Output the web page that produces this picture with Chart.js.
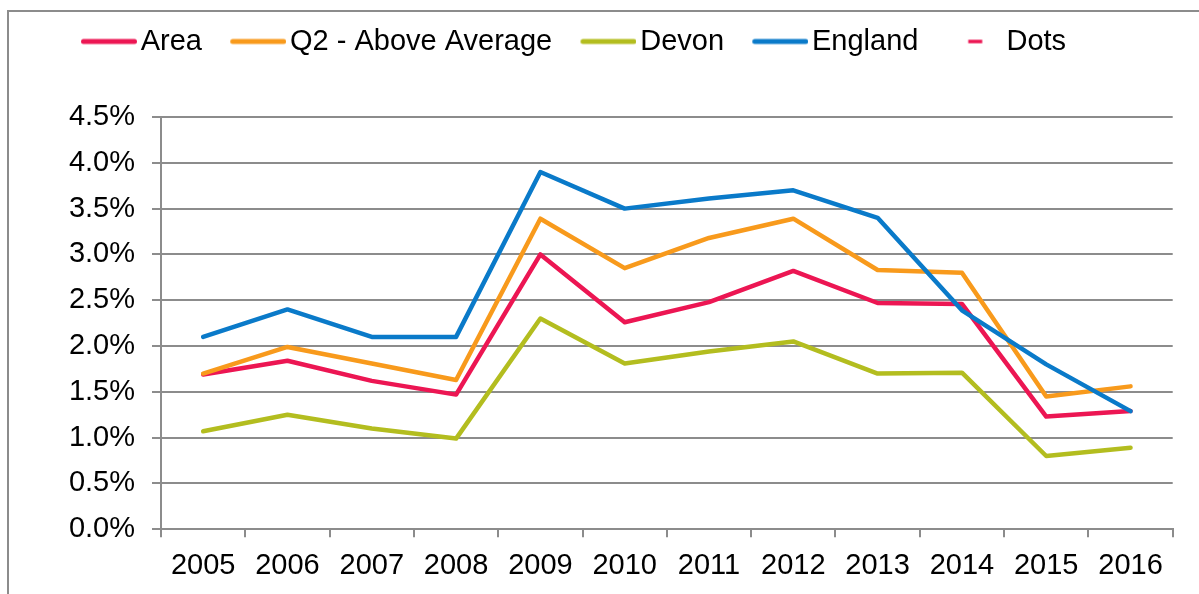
<!DOCTYPE html>
<html>
<head>
<meta charset="utf-8">
<title>Rates chart</title>
<script src="https://cdn.jsdelivr.net/npm/chart.js@4.4.1/dist/chart.umd.min.js"></script>
<style>
  html, body { margin: 0; padding: 0; background: #fff; overflow: hidden; }
  body { width: 1199px; height: 594px; position: relative; }
  .frame {
    position: absolute; left: 7px; top: 10px; width: 1400px; height: 800px;
    border: 2px solid #8c8c8c; box-sizing: border-box;
  }
  #chart { position: absolute; left: 0; top: -2px; }
</style>
</head>
<body>
<div class="frame"></div>
<canvas id="chart" width="1199" height="596"></canvas>
<script>
// data (values in %)
const years = ['2005', '2006', '2007', '2008', '2009', '2010', '2011', '2012', '2013', '2014', '2015', '2016'];
const area = [1.69, 1.84, 1.62, 1.47, 3.00, 2.26, 2.48, 2.82, 2.47, 2.46, 1.23, 1.29];
const q2AboveAverage = [1.70, 1.99, 1.81, 1.63, 3.39, 2.85, 3.18, 3.39, 2.83, 2.80, 1.45, 1.56];
const devon = [1.07, 1.25, 1.10, 0.99, 2.30, 1.81, 1.94, 2.05, 1.70, 1.71, 0.80, 0.89];
const england = [2.10, 2.40, 2.10, 2.10, 3.90, 3.50, 3.61, 3.70, 3.40, 2.39, 1.80, 1.29];
const dots = [];

const seriesNames = ['Area', 'Q2 - Above Average', 'Devon', 'England', 'Dots'];
const seriesColors = ['#ec1653', '#f89a1c', '#b3bd1f', '#0a7ac9', '#ec1653'];
const yMin = 0, yMax = 4.5, yStep = 0.5;

const axisGrey = '#8c8c8c';
const font = { family: '"Liberation Sans", Arial, sans-serif', size: 29 };

// legend markers: long line for the series, short dash for "Dots"
function makeMarker(color, from, to, width, round) {
    const c = document.createElement('canvas');
    c.width = 66;
    c.height = 8;
    const g = c.getContext('2d');
    g.strokeStyle = color;
    g.lineWidth = width;
    g.lineCap = round ? 'round' : 'butt';
    g.beginPath();
    g.moveTo(from, 4);
    g.lineTo(to, 4);
    g.stroke();
    return c;
}
const markers = seriesColors.map((col, i) =>
    i === 4 ? makeMarker(col, 31.5, 45.5, 3.5, false) : makeMarker(col, 12.5, 63.5, 5, true));

// push the plot down below the legend
const legendSpacer = {
    id: 'legendSpacer',
    beforeInit(chart) {
        const fit = chart.legend.fit;
        chart.legend.fit = function() {
            fit.call(this);
            this.height = 119;
        };
    }
};

function lineSet(label, data, color, order) {
    return {
        label: label,
        data: data,
        borderColor: color,
        backgroundColor: color,
        borderWidth: 4.5,
        borderJoinStyle: 'round',
        borderCapStyle: 'round',
        pointRadius: 0,
        pointHoverRadius: 0,
        tension: 0,
        fill: false,
        order: order
    };
}

new Chart(document.getElementById('chart').getContext('2d'), {
    type: 'line',
    data: {
        labels: years,
        datasets: [
            lineSet(seriesNames[0], area, seriesColors[0], 4),
            lineSet(seriesNames[1], q2AboveAverage, seriesColors[1], 3),
            lineSet(seriesNames[2], devon, seriesColors[2], 2),
            lineSet(seriesNames[3], england, seriesColors[3], 1),
            Object.assign(lineSet(seriesNames[4], dots, seriesColors[4], 5), { showLine: false })
        ]
    },
    options: {
        responsive: false,
        animation: false,
        devicePixelRatio: 1,
        layout: { padding: { left: 52.7, right: 26.3, top: 0, bottom: 0 } },
        plugins: {
            legend: {
                position: 'top',
                align: 'start',
                labels: {
                    usePointStyle: true,
                    pointStyleWidth: 44.5,
                    padding: 29,
                    color: '#000',
                    font: font,
                    generateLabels: () => seriesNames.map((name, i) => ({
                        text: name,
                        pointStyle: markers[i],
                        fillStyle: seriesColors[i],
                        strokeStyle: seriesColors[i],
                        lineWidth: 0,
                        hidden: false,
                        datasetIndex: i,
                        fontColor: '#000'
                    }))
                }
            },
            tooltip: { enabled: false }
        },
        scales: {
            x: {
                offset: true,
                grid: {
                    offset: true,
                    drawOnChartArea: false,
                    drawTicks: true,
                    tickLength: 8,
                    color: axisGrey,
                    lineWidth: 2
                },
                border: { display: true, color: axisGrey, width: 2 },
                ticks: { color: '#000', font: font, padding: 11, maxRotation: 0, autoSkip: false },
                afterFit(scale) { scale.height = 64.7; }
            },
            y: {
                min: yMin,
                max: yMax,
                grid: { color: axisGrey, lineWidth: 2, tickLength: 9 },
                border: { display: true, color: axisGrey, width: 2 },
                ticks: {
                    stepSize: yStep,
                    color: '#000',
                    font: font,
                    padding: 17,
                    callback: v => v.toFixed(1) + '%'
                },
                afterFit(scale) { scale.width = 108.3; }
            }
        }
    },
    plugins: [legendSpacer]
});
</script>
</body>
</html>
